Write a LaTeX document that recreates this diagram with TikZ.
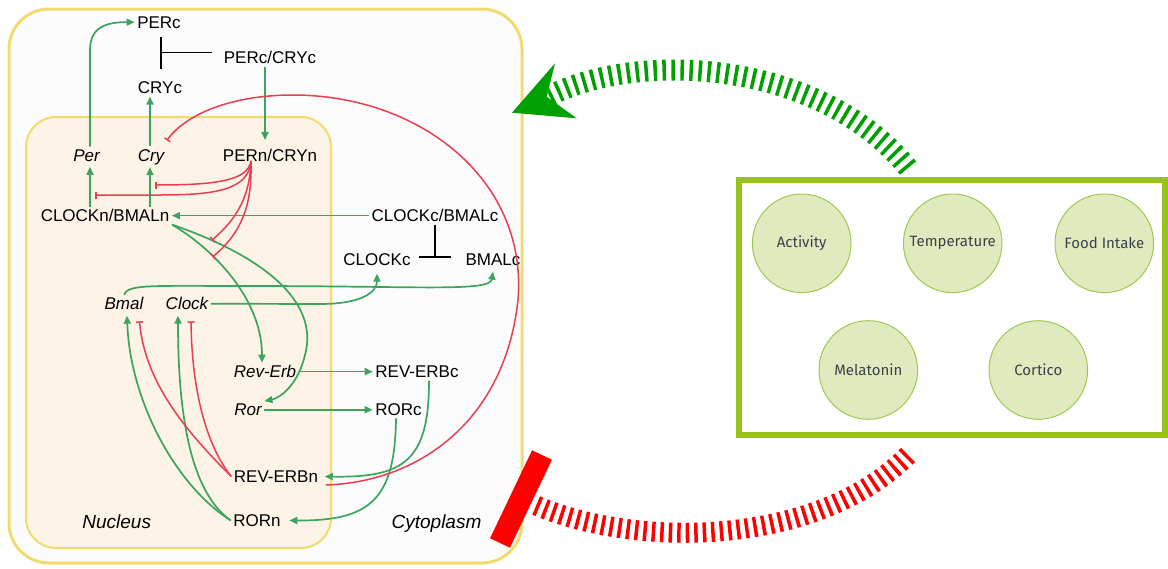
\documentclass[tikz,border=0pt]{standalone}
\usepackage{fontspec}
\setmainfont{Liberation Sans}
\newfontfamily\circfont{Fira Sans}
\usetikzlibrary{arrows.meta}
\definecolor{actg}{RGB}{59,165,93}
\definecolor{inhr}{RGB}{232,62,82}
\definecolor{cellyel}{RGB}{241,219,110}
\definecolor{nucfill}{RGB}{253,243,231}
\definecolor{cellfill}{RGB}{252,252,252}
\definecolor{boxgreen}{RGB}{151,193,31}
\definecolor{circfill}{RGB}{223,235,190}
\definecolor{circline}{RGB}{160,200,80}
\definecolor{circtext}{RGB}{60,66,76}
\definecolor{biggreen}{RGB}{0,160,0}
\definecolor{bigred}{RGB}{255,0,0}
\begin{document}
\begin{tikzpicture}[x=1pt,y=-1pt,
 lbl/.style={inner sep=2.5pt, anchor=base, font=\fontsize{17}{20}\selectfont},
 gene/.style={lbl, font=\fontsize{17}{20}\selectfont\itshape},
 region/.style={lbl, font=\fontsize{19}{22}\selectfont\itshape},
 act/.style={draw=actg, line width=1.7pt, -{Triangle[length=8pt,width=7pt]}},
 inh/.style={draw=inhr, line width=1.5pt, -{Bar[width=7pt]}},
 blk/.style={draw=black, line width=1.7pt},
 factor/.style={circle, draw=circline, line width=1pt, fill=circfill, minimum size=98.6pt, inner sep=0pt, font=\circfont\fontsize{15}{17}\selectfont, text=circtext},
]
\useasboundingbox (0,0) rectangle (1168,568);
% compartments
\draw[cellyel, line width=3pt, fill=cellfill, rounded corners=40pt] (9,9) rectangle (522,563);
\draw[cellyel, line width=2pt, fill=nucfill, rounded corners=30pt] (26,117) rectangle (331,548);

% labels
\node[lbl] (PERc) at (159,28) {PERc};
\node[lbl] (PERcCRYc) at (270,63.7) {PERc/CRYc};
\node[lbl] (CRYc) at (160,93.7) {CRYc};
\node[gene] (Per) at (86.5,161) {Per};
\node[gene] (Cry) at (151,161) {Cry};
\node[lbl] (PERnCRYn) at (270,161) {PERn/CRYn};
\node[lbl] (CLOCKnBMALn) at (105,221.7) {CLOCKn/BMALn};
\node[lbl] (CLOCKcBMALc) at (435,221.7) {CLOCKc/BMALc};
\node[lbl] (CLOCKc) at (377,265.8) {CLOCKc};
\node[lbl] (BMALc) at (493,265.8) {BMALc};
\node[gene] (Bmal) at (124,309.8) {Bmal};
\node[gene] (Clock) at (187,309.8) {Clock};
\node[gene] (RevErb) at (265,377.7) {Rev-Erb};
\node[lbl] (REVERBc) at (417,377.7) {REV-ERBc};
\node[gene] (Ror) at (248,415.5) {Ror};
\node[lbl] (RORc) at (398.5,415.5) {RORc};
\node[lbl] (REVERBn) at (276,482.3) {REV-ERBn};
\node[lbl] (RORn) at (257,526.3) {RORn};
\node[region] (Nucleus) at (116.7,528) {Nucleus};
\node[region] (Cytoplasm) at (436.5,528) {Cytoplasm};

% activations
\draw[act] ([xshift=3.5pt]Per.north) -- (90,50) .. controls (90,28) and (105,22) .. (PERc.west);
\draw[act] ([xshift=-1pt]Cry.north) -- ([xshift=-1pt]Cry.north |- CRYc.south);
\draw[act] ([xshift=-5pt]PERcCRYc.south) -- ([xshift=-5pt,yshift=6pt]PERcCRYc.south |- PERnCRYn.north);
\draw[act] ([xshift=-15pt]CLOCKnBMALn.north) -- ([xshift=-15pt,yshift=-3pt]CLOCKnBMALn.north |- Per.south);
\draw[act] ([xshift=45pt]CLOCKnBMALn.north) -- ([xshift=45pt]CLOCKnBMALn.north |- Cry.south);
\draw[act] (CLOCKcBMALc.west) -- (CLOCKcBMALc.west -| CLOCKnBMALn.east);
\draw[act] (CLOCKnBMALn.south east) .. controls (215,250) and (262,300) .. ([xshift=-3pt]RevErb.north);
\draw[act] (CLOCKnBMALn.south east) .. controls (260,255) and (320,300) .. (305,355) .. controls (298,385) and (280,398) .. (Ror.north east);
\draw[act] (Bmal.north) .. controls (128,284) and (150,286) .. (250,286) .. controls (420,286) and (490,292) .. ([yshift=-3pt]BMALc.south);
\draw[act] (Clock.east) -- (320,304) .. controls (362,304) and (377,292) .. ([yshift=-5pt]CLOCKc.south);
\draw[act] (RevErb.east) -- (RevErb.east -| REVERBc.west);
\draw[act] (Ror.east) -- (Ror.east -| RORc.west);
\draw[act] ([xshift=12pt]REVERBc.south) .. controls (429,460) and (405,478) .. ([xshift=4pt]REVERBn.east);
\draw[act] ([xshift=-2.5pt]RORc.south) .. controls (395,500) and (370,521) .. ([xshift=6pt]RORn.east);
\draw[act] (RORn.west) .. controls (175,485) and (130,400) .. ([xshift=3pt,yshift=-3pt]Bmal.south);
\draw[act] (RORn.west) .. controls (195,495) and (178,430) .. ([xshift=-9pt,yshift=-3pt]Clock.south);

% black inhibitions (complex formation)
\draw[blk, -{Bar[width=32pt]}] (CLOCKcBMALc.south) -- ++(0,33);
\draw[blk, -{Bar[width=32pt]}] ([xshift=-9pt,yshift=5pt]PERcCRYc.west) -- ++(-52,0);

% red inhibitions
\draw[inh] (REVERBn.west) .. controls (190,435) and (145,385) .. ([xshift=15.5pt,yshift=-8.6pt]Bmal.south);
\draw[inh] (REVERBn.west) .. controls (210,450) and (192,400) .. ([xshift=4pt,yshift=-8.6pt]Clock.south);
\coordinate (pn) at ([xshift=-19pt,yshift=3pt]PERnCRYn.south);
\coordinate (perI) at (95,195);
\coordinate (cryI) at (155,185);
\coordinate (rorI) at (212,240);
\coordinate (revI) at (212.5,257);
\draw[inh] (pn) .. controls (249,190) and (215,195) .. (160,195) -- (perI);
\draw[inh] (pn) .. controls (248,181) and (215,185) .. (cryI);
\draw[inh] (pn) .. controls (250,195) and (238,218) .. (rorI);
\draw[inh] (pn) .. controls (252,200) and (245,230) .. (revI);
\draw[inh] ([xshift=5pt]REVERBn.south east) .. controls (420,482) and (505,420) .. (518,300) .. controls (528,180) and (420,95) .. (293,95) .. controls (230,95) and (185,115) .. ([yshift=6pt]Cry.north east);

% external factors
\draw[boxgreen, line width=6pt] (739,180) rectangle (1165,434.5);
\node[factor] (act) at (801.7,243.3) {Activity};
\node[factor] (temp) at (952.7,243.3) {Temperature};
\node[factor] (food) at (1104.3,243.3) {Food Intake};
\node[factor] (mel) at (868.3,370) {Melatonin};
\node[factor] (cort) at (1038.3,370) {Cortico};

% big arrows
\draw[biggreen, line width=21pt, dash pattern=on 3.5pt off 5.5pt] (908,168) .. controls (820,60) and (640,50) .. (549,96);
\fill[biggreen] (512,112.7) -- (555,63.3) -- (546.7,96.7) -- (576.7,118.3) -- cycle;
\draw[bigred, line width=20pt, dash pattern=on 3.5pt off 5pt] (908,455) .. controls (820,545) and (640,550) .. (535,505);
\draw[bigred, line width=22pt] (542,455) -- (500,543);
\end{tikzpicture}
\end{document}
